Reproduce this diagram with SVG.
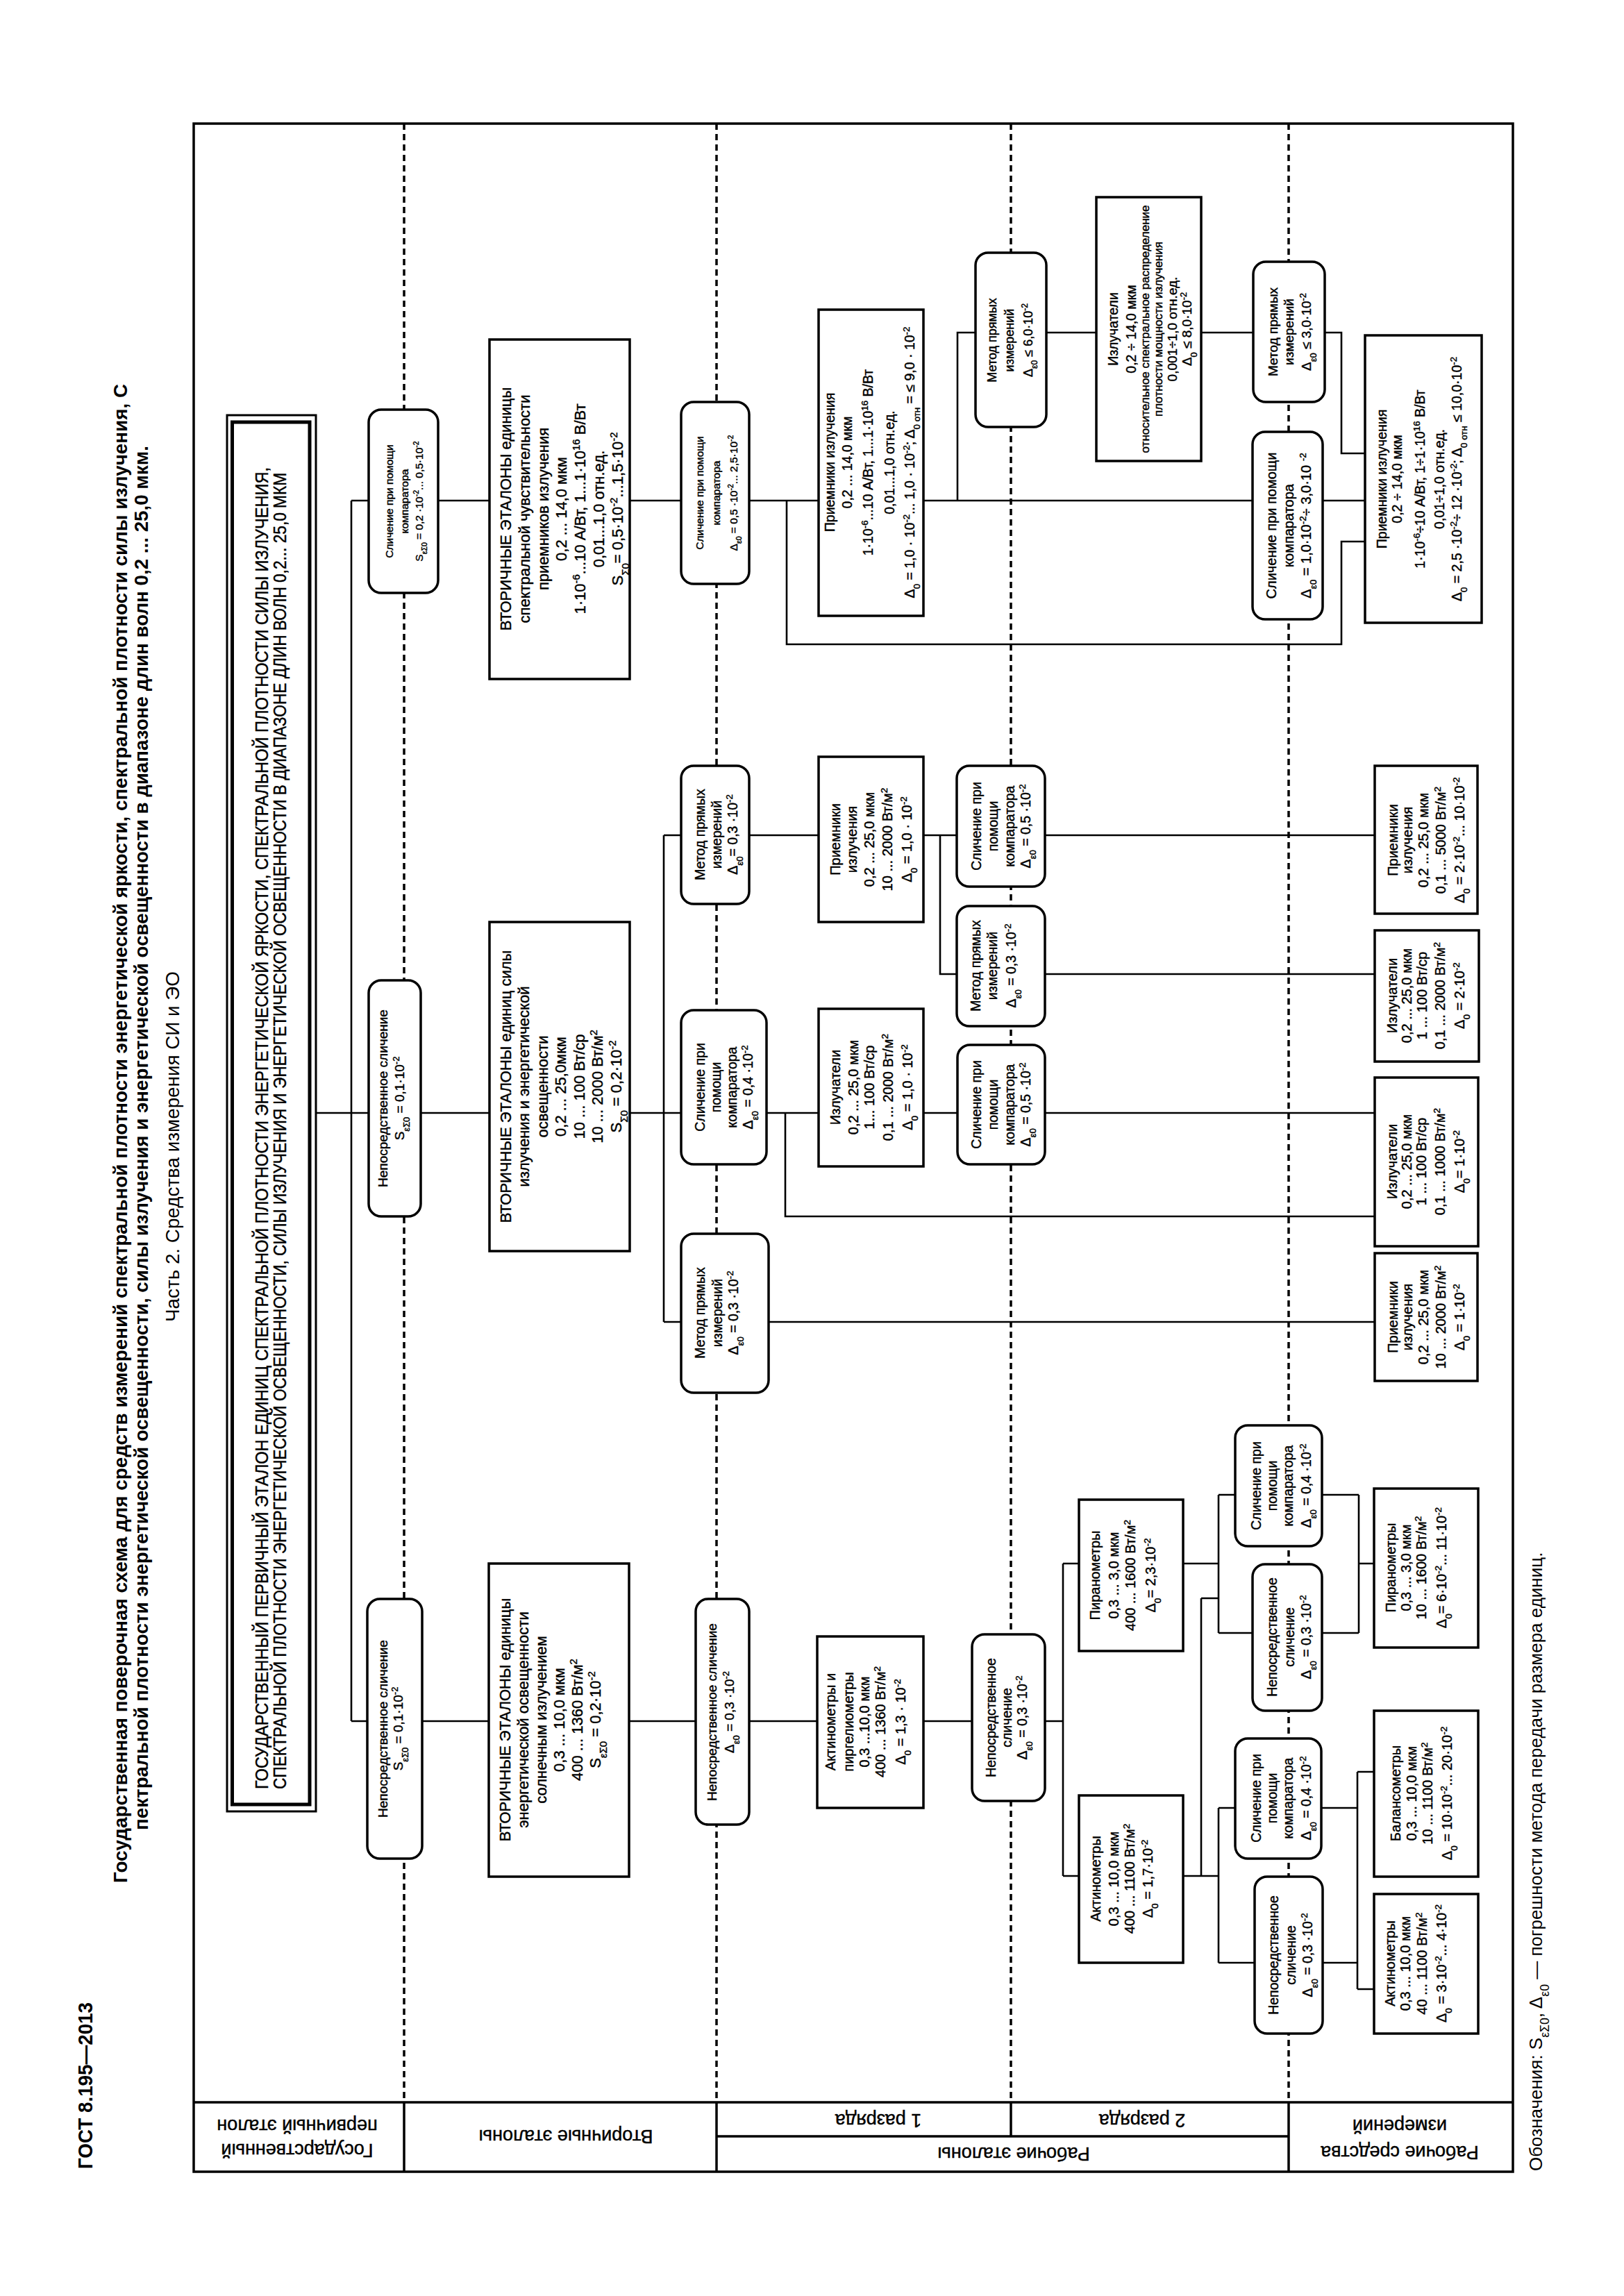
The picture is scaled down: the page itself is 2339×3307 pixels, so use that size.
<svg xmlns="http://www.w3.org/2000/svg" width="2339" height="3307" viewBox="0 0 2339 3307">
<style>
.fr{fill:none;stroke:#000;stroke-width:3.5}
.bx{fill:#fff;stroke:#000;stroke-width:3.5}
.ln{fill:none;stroke:#000;stroke-width:2.6}
.ds{fill:none;stroke:#000;stroke-width:3.5;stroke-dasharray:9 6}
.t{font-family:"Liberation Sans",Arial,sans-serif;font-size:20px;text-anchor:middle;fill:#000;stroke:#000;stroke-width:0.45px}
.h{font-family:"Liberation Sans",Arial,sans-serif;fill:#000}
.hs{stroke:#000;stroke-width:0.45px}
.sp{font-size:68%;baseline-shift:super}
.sb{font-size:68%;baseline-shift:sub}
</style>
<rect x="0" y="0" width="2339" height="3307" fill="#fff"/>

<g id="page-text">
<text class="h" transform="rotate(-90)" x="-3124" y="133" style="font-size:30px;font-weight:bold" textLength="240" lengthAdjust="spacingAndGlyphs">ГОСТ 8.195—2013</text>
<text class="h" transform="rotate(-90)" x="-2712" y="183" style="font-size:28px;font-weight:bold" textLength="2159" lengthAdjust="spacingAndGlyphs">Государственная поверочная схема для средств измерений спектральной плотности энергетической яркости, спектральной плотности силы излучения,  С</text>
<text class="h" transform="rotate(-90)" x="-2636" y="213" style="font-size:28px;font-weight:bold" textLength="1994" lengthAdjust="spacingAndGlyphs">пектральной плотности энергетической освещенности, силы излучения и энергетической освещенности в диапазоне длин волн 0,2 ... 25,0 мкм.</text>
<text class="h" transform="rotate(-90)" x="-1904" y="258" style="font-size:28px" textLength="505" lengthAdjust="spacingAndGlyphs">Часть 2. Средства измерения СИ и ЭО</text>
<text class="h" transform="rotate(-90)" x="-3127" y="2221" style="font-size:26px">Обозначения: S<tspan class="sb">εΣ0</tspan>, Δ<tspan class="sb">ε0</tspan> — погрешности метода передачи размера единиц.</text>
</g>

<g id="frame">
<rect class="fr" x="279" y="178" width="1900" height="2950"/>
<path class="fr" d="M279,3028 H2179 M582,3028 V3128 M1032,3028 V3128 M1856,3028 V3128 M1456,3028 V3077 M1032,3077 H1856"/>
<text class="t" transform="rotate(180)" style="font-size:27px"><tspan x="-428" y="-3087.5">Государственный</tspan><tspan x="-428" y="-3052.5">первичный эталон</tspan></text>
<text class="t" transform="rotate(180)" style="font-size:27px"><tspan x="-815" y="-3067.5">Вторичные эталоны</tspan></text>
<text class="t" transform="rotate(180)" style="font-size:27px"><tspan x="-1265" y="-3044.5">1 разряда</tspan></text>
<text class="t" transform="rotate(180)" style="font-size:27px"><tspan x="-1645" y="-3044.5">2 разряда</tspan></text>
<text class="t" transform="rotate(180)" style="font-size:27px"><tspan x="-1460" y="-3092.5">Рабочие эталоны</tspan></text>
<text class="t" transform="rotate(180)" style="font-size:27px"><tspan x="-2016" y="-3090.5">Рабочие средства</tspan><tspan x="-2016" y="-3052.5">измерений</tspan></text>
<path class="ds" d="M582,178 V3028 M1032,178 V3028 M1456,178 V3028 M1856,178 V3028"/>
</g>

<g id="connectors">
<path class="ln" d="M506,721 V2479 M455,1603 H531 M506,721 H531 M631,721 H705 M506,2479 H529 M608,2479 H704 M606,1603 H705
M907,721 H981 M1079,721 H1179 M1133,721 V928 H1932 V780 H1966 M1330,721 H1804 M1379,721 V479 H1405 M1905,721 H1966
M1507,479 H1579 M1730,479 H1805 M1908,479 H1932 V653 H1966
M907,1603 H981 M956,1203 V1904 M956,1203 H981 M956,1904 H981 M1079,1203 H1179 M1330,1203 H1378 M1354,1203 V1403 H1378
M1505,1203 H1980 M1505,1403 H1980 M1104,1603 H1179 M1131,1603 V1752 H1980 M1330,1603 H1379 M1505,1603 H1980 M1107,1904 H1980
M906,2479 H1002 M1079,2479 H1177 M1330,2479 H1400 M1505,2479 H1531 M1531,2252 V2702 M1531,2252 H1554 M1531,2702 H1554
M1704,2252 H1755 M1755,2153 V2352 M1755,2153 H1779 M1755,2352 H1804 M1730,2302 H1755 M1730,2302 V2702 M1704,2702 H1755
M1755,2604 V2827 M1755,2604 H1779 M1755,2827 H1807
M1904,2153 H1957 M1957,2153 V2352 M1904,2352 H1957 M1957,2252 H1979
M1903,2604 H1955 M1955,2552 V2865 M1905,2827 H1955 M1955,2552 H1979 M1955,2865 H1979"/>
</g>

<g id="primary">
<rect x="327" y="598" width="128" height="2011" fill="#fff" stroke="#000" stroke-width="3"/>
<rect x="334.5" y="608" width="111.5" height="1991" fill="none" stroke="#000" stroke-width="5"/>
<text class="h hs" transform="rotate(-90)" x="-2577" y="386" style="font-size:25px" textLength="1904" lengthAdjust="spacingAndGlyphs">ГОСУДАРСТВЕННЫЙ ПЕРВИЧНЫЙ ЭТАЛОН ЕДИНИЦ СПЕКТРАЛЬНОЙ ПЛОТНОСТИ ЭНЕРГЕТИЧЕСКОЙ ЯРКОСТИ, СПЕКТРАЛЬНОЙ ПЛОТНОСТИ СИЛЫ ИЗЛУЧЕНИЯ,</text>
<text class="h hs" transform="rotate(-90)" x="-2577" y="412" style="font-size:25px" textLength="1896" lengthAdjust="spacingAndGlyphs">СПЕКТРАЛЬНОЙ ПЛОТНОСТИ ЭНЕРГЕТИЧЕСКОЙ ОСВЕЩЕННОСТИ, СИЛЫ ИЗЛУЧЕНИЯ И ЭНЕРГЕТИЧЕСКОЙ ОСВЕЩЕННОСТИ В ДИАПАЗОНЕ ДЛИН ВОЛН 0,2... 25,0 МКМ</text>
</g>

<g id="n-a"><rect class="bx" x="531" y="590" width="100" height="264" rx="18"/>
<text class="t" transform="rotate(-90)" style="font-size:15.5px"><tspan x="-722" y="566.4">Сличение при помощи</tspan><tspan x="-722" y="588.4">компаратора</tspan><tspan x="-722" y="609.4">S<tspan class="sb">εΣ0</tspan> = 0,2 ·10<tspan class="sp">-2</tspan>... 0,5·10<tspan class="sp">-2</tspan></tspan></text></g>

<g id="n-b"><rect class="bx" x="531" y="1412" width="75" height="340" rx="18"/>
<text class="t" transform="rotate(-90)" style="font-size:19px"><tspan x="-1582" y="557.7">Непосредственное сличение</tspan><tspan x="-1582" y="581.7">S<tspan class="sb">εΣ0</tspan> = 0,1·10<tspan class="sp">-2</tspan></tspan></text></g>

<g id="n-c"><rect class="bx" x="529" y="2303" width="79" height="374" rx="18"/>
<text class="t" transform="rotate(-90)" style="font-size:19px"><tspan x="-2490" y="557.7">Непосредственное сличение</tspan><tspan x="-2490" y="579.7">S<tspan class="sb">εΣ0</tspan> = 0,1·10<tspan class="sp">-2</tspan></tspan></text></g>

<g id="n-d"><rect class="bx" x="705" y="489" width="202" height="489"/>
<text class="t" transform="rotate(-90)" style="font-size:22px"><tspan x="-733" y="735.7">ВТОРИЧНЫЕ ЭТАЛОНЫ единицы</tspan><tspan x="-733" y="762.7">спектральной чувствительности</tspan><tspan x="-733" y="789.7">приемников излучения</tspan><tspan x="-733" y="815.7">0,2 ... 14,0 мкм</tspan><tspan x="-733" y="842.7">1·10<tspan class="sp">-6</tspan>...10 А/Вт, 1...1·10<tspan class="sp">16</tspan> В/Вт</tspan><tspan x="-733" y="869.7">0,01...1,0 отн.ед.</tspan><tspan x="-733" y="896.7">S<tspan class="sb">Σ0</tspan>= 0,5·10<tspan class="sp">-2</tspan>...1,5·10<tspan class="sp">-2</tspan></tspan></text></g>

<g id="n-e"><rect class="bx" x="705" y="1328" width="202" height="474"/>
<text class="t" transform="rotate(-90)" style="font-size:22px"><tspan x="-1565" y="735.7">ВТОРИЧНЫЕ ЭТАЛОНЫ единиц силы</tspan><tspan x="-1565" y="762.2">излучения и энергетической</tspan><tspan x="-1565" y="788.7">освещенности</tspan><tspan x="-1565" y="815.2">0,2 ... 25,0мкм</tspan><tspan x="-1565" y="841.7">10 ... 100 Вт/ср</tspan><tspan x="-1565" y="868.2">10 ... 2000 Вт/м<tspan class="sp">2</tspan></tspan><tspan x="-1565" y="894.7">S<tspan class="sb">Σ0</tspan> = 0,2·10<tspan class="sp">-2</tspan></tspan></text></g>

<g id="n-f"><rect class="bx" x="704" y="2252" width="202" height="451"/>
<text class="t" transform="rotate(-90)" style="font-size:22px"><tspan x="-2477" y="734.7">ВТОРИЧНЫЕ ЭТАЛОНЫ единицы</tspan><tspan x="-2477" y="760.7">энергетической освещенности</tspan><tspan x="-2477" y="786.7">солнечным излучением</tspan><tspan x="-2477" y="812.7">0,3 ... 10,0 мкм</tspan><tspan x="-2477" y="838.7">400 ... 1360 Вт/м<tspan class="sp">2</tspan></tspan><tspan x="-2477" y="864.7">S<tspan class="sb">εΣ0</tspan> = 0,2·10<tspan class="sp">-2</tspan></tspan></text></g>

<g id="n-g"><rect class="bx" x="981" y="579" width="98" height="262" rx="18"/>
<text class="t" transform="rotate(-90)" style="font-size:15.5px"><tspan x="-710" y="1013.4">Сличение при помощи</tspan><tspan x="-710" y="1037.4">компаратора</tspan><tspan x="-710" y="1062.4">Δ<tspan class="sb">ε0</tspan> = 0,5 ·10<tspan class="sp">-2</tspan>... 2,5·10<tspan class="sp">-2</tspan></tspan></text></g>

<g id="n-h"><rect class="bx" x="1179" y="446" width="151" height="441"/>
<text class="t" transform="rotate(-90)" style="font-size:19.5px"><tspan x="-666" y="1201.8">Приемники излучения</tspan><tspan x="-666" y="1226.8">0,2 ... 14,0 мкм</tspan><tspan x="-666" y="1256.8">1·10<tspan class="sp">-6</tspan>...10 А/Вт, 1...1·10<tspan class="sp">16</tspan> В/Вт</tspan><tspan x="-666" y="1287.8">0,01...1,0 отн.ед.</tspan><tspan x="-666" y="1316.8">Δ<tspan class="sb">0</tspan> = 1,0 · 10<tspan class="sp">-2</tspan>... 1,0 · 10<tspan class="sp">-2</tspan>; Δ<tspan class="sb">0 отн</tspan> = ≤ 9,0 · 10<tspan class="sp">-2</tspan></tspan></text></g>

<g id="n-i"><rect class="bx" x="1405" y="364" width="102" height="251" rx="18"/>
<text class="t" transform="rotate(-90)" style="font-size:18px"><tspan x="-490" y="1435.3">Метод прямых</tspan><tspan x="-490" y="1460.3">измерений</tspan><tspan x="-490" y="1487.3">Δ<tspan class="sb">ε0</tspan> ≤ 6,0·10<tspan class="sp">-2</tspan></tspan></text></g>

<g id="n-j"><rect class="bx" x="1579" y="284" width="151" height="380"/>
<text class="t" transform="rotate(-90)" style="font-size:19.5px"><tspan x="-474" y="1609.8">Излучатели</tspan><tspan x="-474" y="1635.8">0,2 ÷ 14,0 мкм</tspan><tspan x="-474" y="1654.9" style="font-size:17px">относительное спектральное распределение</tspan><tspan x="-474" y="1673.9" style="font-size:17px">плотности мощности излучения</tspan><tspan x="-474" y="1694.7" style="font-size:19px">0,001÷1,0 отн.ед.</tspan><tspan x="-474" y="1715.7" style="font-size:19px">Δ<tspan class="sb">0</tspan> ≤ 8,0·10<tspan class="sp">-2</tspan></tspan></text></g>

<g id="n-k"><rect class="bx" x="1804" y="622" width="101" height="270" rx="18"/>
<text class="t" transform="rotate(-90)" style="font-size:20px"><tspan x="-757" y="1838">Сличение при помощи</tspan><tspan x="-757" y="1863">компаратора</tspan><tspan x="-757" y="1888">Δ<tspan class="sb">ε0</tspan> = 1,0·10<tspan class="sp">-2</tspan>÷ 3,0·10 <tspan class="sp">-2</tspan></tspan></text></g>

<g id="n-l"><rect class="bx" x="1966" y="483" width="168" height="414"/>
<text class="t" transform="rotate(-90)" style="font-size:19.5px"><tspan x="-690" y="1996.8">Приемники излучения</tspan><tspan x="-690" y="2018.8">0,2 ÷ 14,0 мкм</tspan><tspan x="-690" y="2051.8">1·10<tspan class="sp">-6</tspan>÷10 А/Вт, 1÷1·10<tspan class="sp">16</tspan> В/Вт</tspan><tspan x="-690" y="2079.8">0,01÷1,0 отн.ед.</tspan><tspan x="-690" y="2104.8">Δ<tspan class="sb">0</tspan> = 2,5 ·10<tspan class="sp">-2</tspan>÷ 12 ·10<tspan class="sp">-2</tspan>; Δ<tspan class="sb">0 отн</tspan> ≤ 10,0·10<tspan class="sp">-2</tspan></tspan></text></g>

<g id="n-m"><rect class="bx" x="1805" y="377" width="103" height="202" rx="18"/>
<text class="t" transform="rotate(-90)" style="font-size:19px"><tspan x="-478" y="1839.7">Метод прямых</tspan><tspan x="-478" y="1862.7">измерений</tspan><tspan x="-478" y="1887.7">Δ<tspan class="sb">ε0</tspan> ≤ 3,0·10<tspan class="sp">-2</tspan></tspan></text></g>

<g id="n-n"><rect class="bx" x="981" y="1455" width="123" height="222" rx="18"/>
<text class="t" transform="rotate(-90)" style="font-size:19.5px"><tspan x="-1566" y="1014.8">Сличение при</tspan><tspan x="-1566" y="1037.8">помощи</tspan><tspan x="-1566" y="1060.8">компаратора</tspan><tspan x="-1566" y="1083.8">Δ<tspan class="sb">ε0</tspan> = 0,4 ·10<tspan class="sp">-2</tspan></tspan></text></g>

<g id="n-p"><rect class="bx" x="981" y="1103" width="98" height="199" rx="18"/>
<text class="t" transform="rotate(-90)" style="font-size:19.5px"><tspan x="-1202" y="1014.8">Метод прямых</tspan><tspan x="-1202" y="1038.8">измерений</tspan><tspan x="-1202" y="1061.8">Δ<tspan class="sb">ε0</tspan>= 0,3 ·10<tspan class="sp">-2</tspan></tspan></text></g>

<g id="n-q"><rect class="bx" x="981" y="1777" width="126" height="229" rx="18"/>
<text class="t" transform="rotate(-90)" style="font-size:19.5px"><tspan x="-1891" y="1014.8">Метод прямых</tspan><tspan x="-1891" y="1039.8">измерений</tspan><tspan x="-1891" y="1062.8">Δ<tspan class="sb">ε0</tspan> = 0,3 ·10<tspan class="sp">-2</tspan></tspan></text></g>

<g id="n-r"><rect class="bx" x="1179" y="1090" width="151" height="238"/>
<text class="t" transform="rotate(-90)"><tspan x="-1209" y="1210">Приемники</tspan><tspan x="-1209" y="1234">излучения</tspan><tspan x="-1209" y="1259">0,2 ... 25,0 мкм</tspan><tspan x="-1209" y="1285">10 ... 2000 Вт/м<tspan class="sp">2</tspan></tspan><tspan x="-1209" y="1313">Δ<tspan class="sb">0</tspan> = 1,0 · 10<tspan class="sp">-2</tspan></tspan></text></g>

<g id="n-s"><rect class="bx" x="1378" y="1103" width="127" height="174" rx="18"/>
<text class="t" transform="rotate(-90)" style="font-size:19.5px"><tspan x="-1190" y="1412.8">Сличение при</tspan><tspan x="-1190" y="1436.8">помощи</tspan><tspan x="-1190" y="1460.8">компаратора</tspan><tspan x="-1190" y="1483.8">Δ<tspan class="sb">ε0</tspan> = 0,5 ·10<tspan class="sp">-2</tspan></tspan></text></g>

<g id="n-t"><rect class="bx" x="1378" y="1305" width="127" height="173" rx="18"/>
<text class="t" transform="rotate(-90)" style="font-size:19.5px"><tspan x="-1391" y="1411.8">Метод прямых</tspan><tspan x="-1391" y="1435.8">измерений</tspan><tspan x="-1391" y="1462.8">Δ<tspan class="sb">ε0</tspan> = 0,3 ·10<tspan class="sp">-2</tspan></tspan></text></g>

<g id="n-u"><rect class="bx" x="1379" y="1505" width="126" height="172" rx="18"/>
<text class="t" transform="rotate(-90)" style="font-size:19.5px"><tspan x="-1591" y="1412.8">Сличение при</tspan><tspan x="-1591" y="1436.8">помощи</tspan><tspan x="-1591" y="1460.8">компаратора</tspan><tspan x="-1591" y="1483.8">Δ<tspan class="sb">ε0</tspan> = 0,5 ·10<tspan class="sp">-2</tspan></tspan></text></g>

<g id="n-v"><rect class="bx" x="1179" y="1453" width="151" height="227"/>
<text class="t" transform="rotate(-90)"><tspan x="-1566" y="1210">Излучатели</tspan><tspan x="-1566" y="1236">0,2 ... 25,0 мкм</tspan><tspan x="-1566" y="1259">1... 100 Вт/ср</tspan><tspan x="-1566" y="1286">0,1 ... 2000 Вт/м<tspan class="sp">2</tspan></tspan><tspan x="-1566" y="1314">Δ<tspan class="sb">0</tspan> = 1,0 · 10<tspan class="sp">-2</tspan></tspan></text></g>

<g id="n-w"><rect class="bx" x="1980" y="1552" width="149" height="243"/>
<text class="t" transform="rotate(-90)"><tspan x="-1673" y="2012">Излучатели</tspan><tspan x="-1673" y="2033">0,2 ... 25,0 мкм</tspan><tspan x="-1673" y="2054">1 ... 100 Вт/ср</tspan><tspan x="-1673" y="2081">0,1 ... 1000 Вт/м<tspan class="sp">2</tspan></tspan><tspan x="-1673" y="2109">Δ<tspan class="sb">0</tspan>= 1·10<tspan class="sp">-2</tspan></tspan></text></g>

<g id="n-x"><rect class="bx" x="1980" y="1103" width="148" height="213"/>
<text class="t" transform="rotate(-90)"><tspan x="-1210" y="2013">Приемники</tspan><tspan x="-1210" y="2034">излучения</tspan><tspan x="-1210" y="2057">0,2 ... 25,0 мкм</tspan><tspan x="-1210" y="2082">0,1 ... 5000 Вт/м<tspan class="sp">2</tspan></tspan><tspan x="-1210" y="2109">Δ<tspan class="sb">0</tspan> = 2·10<tspan class="sp">-2</tspan>... 10·10<tspan class="sp">-2</tspan></tspan></text></g>

<g id="n-y"><rect class="bx" x="1980" y="1340" width="150" height="189"/>
<text class="t" transform="rotate(-90)"><tspan x="-1434" y="2012">Излучатели</tspan><tspan x="-1434" y="2033">0,2 ... 25,0 мкм</tspan><tspan x="-1434" y="2055">1 ... 100 Вт/ср</tspan><tspan x="-1434" y="2081">0,1 ... 2000 Вт/м<tspan class="sp">2</tspan></tspan><tspan x="-1434" y="2109">Δ<tspan class="sb">0</tspan> = 2·10<tspan class="sp">-2</tspan></tspan></text></g>

<g id="n-z"><rect class="bx" x="1980" y="1805" width="148" height="184"/>
<text class="t" transform="rotate(-90)"><tspan x="-1897" y="2013">Приемники</tspan><tspan x="-1897" y="2034">излучения</tspan><tspan x="-1897" y="2057">0,2 ... 25,0 мкм</tspan><tspan x="-1897" y="2082">10 ... 2000 Вт/м<tspan class="sp">2</tspan></tspan><tspan x="-1897" y="2109">Δ<tspan class="sb">0</tspan> = 1·10<tspan class="sp">-2</tspan></tspan></text></g>

<g id="n-aa"><rect class="bx" x="1002" y="2303" width="77" height="325" rx="18"/>
<text class="t" transform="rotate(-90)" style="font-size:19px"><tspan x="-2466" y="1031.7">Непосредственное сличение</tspan><tspan x="-2466" y="1056.7">Δ<tspan class="sb">ε0</tspan> = 0,3 ·10<tspan class="sp">-2</tspan></tspan></text></g>

<g id="n-bb"><rect class="bx" x="1177" y="2357" width="153" height="247"/>
<text class="t" transform="rotate(-90)"><tspan x="-2480" y="1203">Актинометры и</tspan><tspan x="-2480" y="1229">пиргелиометры</tspan><tspan x="-2480" y="1252">0,3 ...10,0 мкм</tspan><tspan x="-2480" y="1275">400 ... 1360 Вт/м<tspan class="sp">2</tspan></tspan><tspan x="-2480" y="1304">Δ<tspan class="sb">0</tspan> = 1,3 · 10<tspan class="sp">-2</tspan></tspan></text></g>

<g id="n-cc"><rect class="bx" x="1400" y="2354" width="105" height="240" rx="18"/>
<text class="t" transform="rotate(-90)" style="font-size:19.5px"><tspan x="-2474" y="1433.8">Непосредственное</tspan><tspan x="-2474" y="1456.8">сличение</tspan><tspan x="-2474" y="1478.8">Δ<tspan class="sb">ε0</tspan> = 0,3 ·10<tspan class="sp">-2</tspan></tspan></text></g>

<g id="n-dd"><rect class="bx" x="1554" y="2160" width="150" height="218"/>
<text class="t" transform="rotate(-90)"><tspan x="-2269" y="1584">Пиранометры</tspan><tspan x="-2269" y="1611">0,3 ... 3,0 мкм</tspan><tspan x="-2269" y="1635">400 ... 1600 Вт/м<tspan class="sp">2</tspan></tspan><tspan x="-2269" y="1664">Δ<tspan class="sb">0</tspan>= 2,3·10<tspan class="sp">-2</tspan></tspan></text></g>

<g id="n-ee"><rect class="bx" x="1554" y="2586" width="150" height="241"/>
<text class="t" transform="rotate(-90)"><tspan x="-2706" y="1585">Актинометры</tspan><tspan x="-2706" y="1611">0,3 ... 10,0 мкм</tspan><tspan x="-2706" y="1634">400 ... 1100 Вт/м<tspan class="sp">2</tspan></tspan><tspan x="-2706" y="1660">Δ<tspan class="sb">0</tspan> = 1,7·10<tspan class="sp">-2</tspan></tspan></text></g>

<g id="n-ff"><rect class="bx" x="1779" y="2053" width="125" height="174" rx="18"/>
<text class="t" transform="rotate(-90)" style="font-size:19.5px"><tspan x="-2140" y="1815.8">Сличение при</tspan><tspan x="-2140" y="1838.8">помощи</tspan><tspan x="-2140" y="1861.8">компаратора</tspan><tspan x="-2140" y="1887.8">Δ<tspan class="sb">ε0</tspan> = 0,4 ·10<tspan class="sp">-2</tspan></tspan></text></g>

<g id="n-gg"><rect class="bx" x="1804" y="2253" width="100" height="211" rx="18"/>
<text class="t" transform="rotate(-90)" style="font-size:19.5px"><tspan x="-2358" y="1838.8">Непосредственное</tspan><tspan x="-2358" y="1863.8">сличение</tspan><tspan x="-2358" y="1887.8">Δ<tspan class="sb">ε0</tspan> = 0,3 ·10<tspan class="sp">-2</tspan></tspan></text></g>

<g id="n-hh"><rect class="bx" x="1779" y="2504" width="124" height="173" rx="18"/>
<text class="t" transform="rotate(-90)" style="font-size:19.5px"><tspan x="-2590" y="1815.8">Сличение при</tspan><tspan x="-2590" y="1838.8">помощи</tspan><tspan x="-2590" y="1861.8">компаратора</tspan><tspan x="-2590" y="1887.8">Δ<tspan class="sb">ε0</tspan> = 0,4 ·10<tspan class="sp">-2</tspan></tspan></text></g>

<g id="n-ii"><rect class="bx" x="1807" y="2703" width="98" height="226" rx="18"/>
<text class="t" transform="rotate(-90)" style="font-size:19.5px"><tspan x="-2816" y="1840.8">Непосредственное</tspan><tspan x="-2816" y="1865.8">сличение</tspan><tspan x="-2816" y="1889.8">Δ<tspan class="sb">ε0</tspan> = 0,3 ·10<tspan class="sp">-2</tspan></tspan></text></g>

<g id="n-jj"><rect class="bx" x="1979" y="2144" width="150" height="229"/>
<text class="t" transform="rotate(-90)"><tspan x="-2258" y="2010">Пиранометры</tspan><tspan x="-2258" y="2032">0,3 ... 3,0 мкм</tspan><tspan x="-2258" y="2054">10 ... 1600 Вт/м<tspan class="sp">2</tspan></tspan><tspan x="-2258" y="2083">Δ<tspan class="sb">0</tspan>= 6·10<tspan class="sp">-2</tspan>... 11·10<tspan class="sp">-2</tspan></tspan></text></g>

<g id="n-kk"><rect class="bx" x="1979" y="2464" width="150" height="239"/>
<text class="t" transform="rotate(-90)"><tspan x="-2583" y="2017">Балансометры</tspan><tspan x="-2583" y="2040">0,3 ... 10,0 мкм</tspan><tspan x="-2583" y="2063">10 ... 1100 Вт/м<tspan class="sp">2</tspan></tspan><tspan x="-2583" y="2091">Δ<tspan class="sb">0</tspan> = 10·10<tspan class="sp">-2</tspan>... 20·10<tspan class="sp">-2</tspan></tspan></text></g>

<g id="n-ll"><rect class="bx" x="1979" y="2728" width="150" height="201"/>
<text class="t" transform="rotate(-90)"><tspan x="-2828" y="2009">Актинометры</tspan><tspan x="-2828" y="2031">0,3 ... 10,0 мкм</tspan><tspan x="-2828" y="2055">40 ... 1100 Вт/м<tspan class="sp">2</tspan></tspan><tspan x="-2828" y="2083">Δ<tspan class="sb">0</tspan> = 3·10<tspan class="sp">-2</tspan>... 4·10<tspan class="sp">-2</tspan></tspan></text></g>
</svg>
